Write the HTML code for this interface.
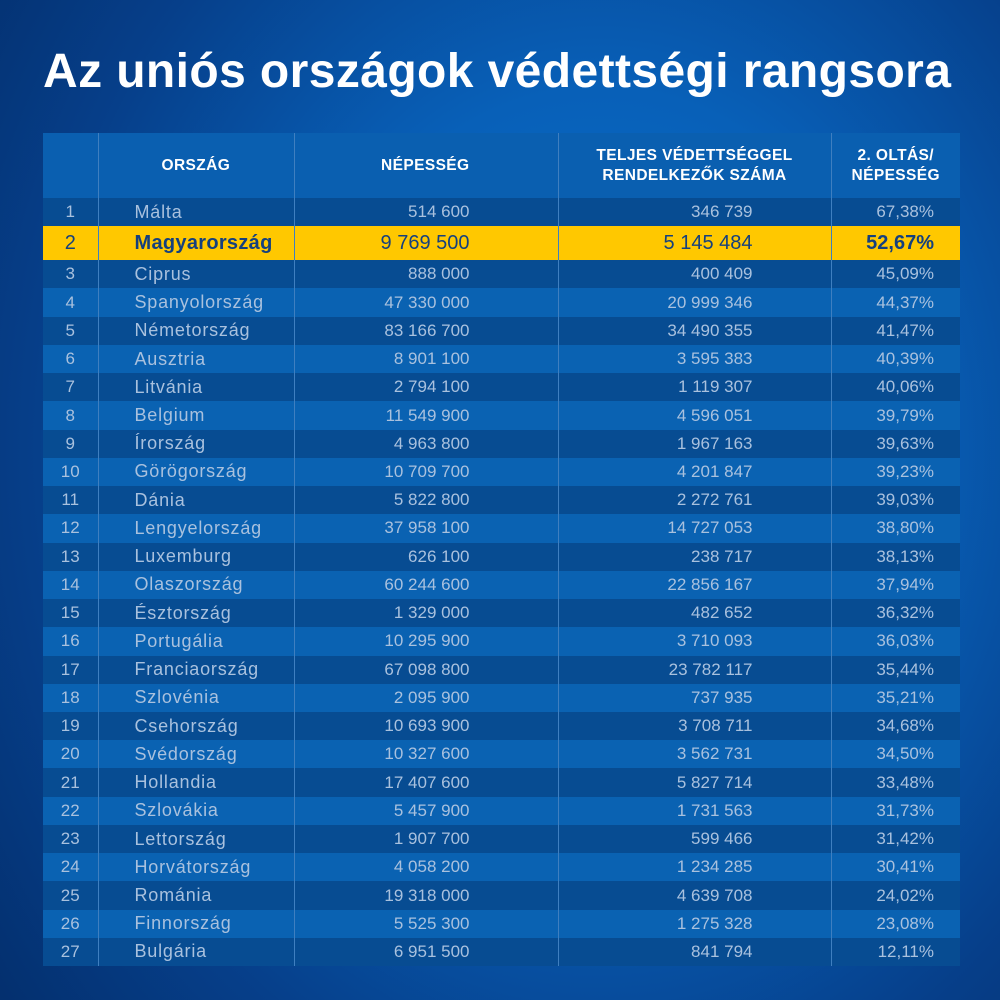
<!DOCTYPE html>
<html><head><meta charset="utf-8"><style>
*{margin:0;padding:0;box-sizing:border-box}
body{width:1000px;height:1000px;overflow:hidden;font-family:"Liberation Sans",sans-serif;
background:radial-gradient(ellipse 75% 90% at 60% 45%,#0a72d2 0%,#0860b8 40%,#063f8a 75%,#04306f 100%);position:relative}
h1{position:absolute;left:43px;top:44px;width:912px;color:#fff;font-size:48px;font-weight:bold;white-space:nowrap;letter-spacing:0.4px}
table{position:absolute;left:43px;top:133px;width:917px;border-collapse:collapse;table-layout:fixed}
td,th{padding:0;white-space:nowrap}
th{background:#0a5fb0;color:#fff;font-size:15.5px;font-weight:bold;height:65px;line-height:20px;border-left:1px solid #3f7fc0;letter-spacing:0.4px}
th:first-child{border-left:none}
td{height:28.24px;font-size:17px;color:#a9c1de;border-left:1px solid #3f7fc0}
td:first-child{border-left:none;text-align:center}
tr.d td{background:#074c92}
tr.l td{background:#0a62b2}
tr.y td{background:#ffc800;color:#15407e;font-size:20px;height:34px}
td.c{padding-left:36px;font-size:18px;letter-spacing:0.8px}
tr.y td.c{font-size:20px;letter-spacing:0.3px}
td.n{text-align:right;padding-right:88px}
td.v{text-align:right;padding-right:78px}
td.p{text-align:right;padding-right:26px}
</style></head><body>
<h1>Az uniós országok védettségi rangsora</h1>
<table>
<colgroup><col style="width:55px"><col style="width:196px"><col style="width:264px"><col style="width:273px"><col style="width:129px"></colgroup>
<tr><th></th><th style="text-align:left;padding-left:63px">ORSZÁG</th><th style="text-align:right;padding-right:88px">NÉPESSÉG</th><th>TELJES VÉDETTSÉGGEL<br>RENDELKEZŐK SZÁMA</th><th>2. OLTÁS/<br>NÉPESSÉG</th></tr>
<tr class="d"><td>1</td><td class="c">Málta</td><td class="n">514 600</td><td class="v">346 739</td><td class="p">67,38%</td></tr>
<tr class="y"><td>2</td><td class="c" style="font-weight:bold">Magyarország</td><td class="n">9 769 500</td><td class="v">5 145 484</td><td class="p" style="font-weight:bold">52,67%</td></tr>
<tr class="d"><td>3</td><td class="c">Ciprus</td><td class="n">888 000</td><td class="v">400 409</td><td class="p">45,09%</td></tr>
<tr class="l"><td>4</td><td class="c">Spanyolország</td><td class="n">47 330 000</td><td class="v">20 999 346</td><td class="p">44,37%</td></tr>
<tr class="d"><td>5</td><td class="c">Németország</td><td class="n">83 166 700</td><td class="v">34 490 355</td><td class="p">41,47%</td></tr>
<tr class="l"><td>6</td><td class="c">Ausztria</td><td class="n">8 901 100</td><td class="v">3 595 383</td><td class="p">40,39%</td></tr>
<tr class="d"><td>7</td><td class="c">Litvánia</td><td class="n">2 794 100</td><td class="v">1 119 307</td><td class="p">40,06%</td></tr>
<tr class="l"><td>8</td><td class="c">Belgium</td><td class="n">11 549 900</td><td class="v">4 596 051</td><td class="p">39,79%</td></tr>
<tr class="d"><td>9</td><td class="c">Írország</td><td class="n">4 963 800</td><td class="v">1 967 163</td><td class="p">39,63%</td></tr>
<tr class="l"><td>10</td><td class="c">Görögország</td><td class="n">10 709 700</td><td class="v">4 201 847</td><td class="p">39,23%</td></tr>
<tr class="d"><td>11</td><td class="c">Dánia</td><td class="n">5 822 800</td><td class="v">2 272 761</td><td class="p">39,03%</td></tr>
<tr class="l"><td>12</td><td class="c">Lengyelország</td><td class="n">37 958 100</td><td class="v">14 727 053</td><td class="p">38,80%</td></tr>
<tr class="d"><td>13</td><td class="c">Luxemburg</td><td class="n">626 100</td><td class="v">238 717</td><td class="p">38,13%</td></tr>
<tr class="l"><td>14</td><td class="c">Olaszország</td><td class="n">60 244 600</td><td class="v">22 856 167</td><td class="p">37,94%</td></tr>
<tr class="d"><td>15</td><td class="c">Észtország</td><td class="n">1 329 000</td><td class="v">482 652</td><td class="p">36,32%</td></tr>
<tr class="l"><td>16</td><td class="c">Portugália</td><td class="n">10 295 900</td><td class="v">3 710 093</td><td class="p">36,03%</td></tr>
<tr class="d"><td>17</td><td class="c">Franciaország</td><td class="n">67 098 800</td><td class="v">23 782 117</td><td class="p">35,44%</td></tr>
<tr class="l"><td>18</td><td class="c">Szlovénia</td><td class="n">2 095 900</td><td class="v">737 935</td><td class="p">35,21%</td></tr>
<tr class="d"><td>19</td><td class="c">Csehország</td><td class="n">10 693 900</td><td class="v">3 708 711</td><td class="p">34,68%</td></tr>
<tr class="l"><td>20</td><td class="c">Svédország</td><td class="n">10 327 600</td><td class="v">3 562 731</td><td class="p">34,50%</td></tr>
<tr class="d"><td>21</td><td class="c">Hollandia</td><td class="n">17 407 600</td><td class="v">5 827 714</td><td class="p">33,48%</td></tr>
<tr class="l"><td>22</td><td class="c">Szlovákia</td><td class="n">5 457 900</td><td class="v">1 731 563</td><td class="p">31,73%</td></tr>
<tr class="d"><td>23</td><td class="c">Lettország</td><td class="n">1 907 700</td><td class="v">599 466</td><td class="p">31,42%</td></tr>
<tr class="l"><td>24</td><td class="c">Horvátország</td><td class="n">4 058 200</td><td class="v">1 234 285</td><td class="p">30,41%</td></tr>
<tr class="d"><td>25</td><td class="c">Románia</td><td class="n">19 318 000</td><td class="v">4 639 708</td><td class="p">24,02%</td></tr>
<tr class="l"><td>26</td><td class="c">Finnország</td><td class="n">5 525 300</td><td class="v">1 275 328</td><td class="p">23,08%</td></tr>
<tr class="d"><td>27</td><td class="c">Bulgária</td><td class="n">6 951 500</td><td class="v">841 794</td><td class="p">12,11%</td></tr>
</table>
</body></html>
